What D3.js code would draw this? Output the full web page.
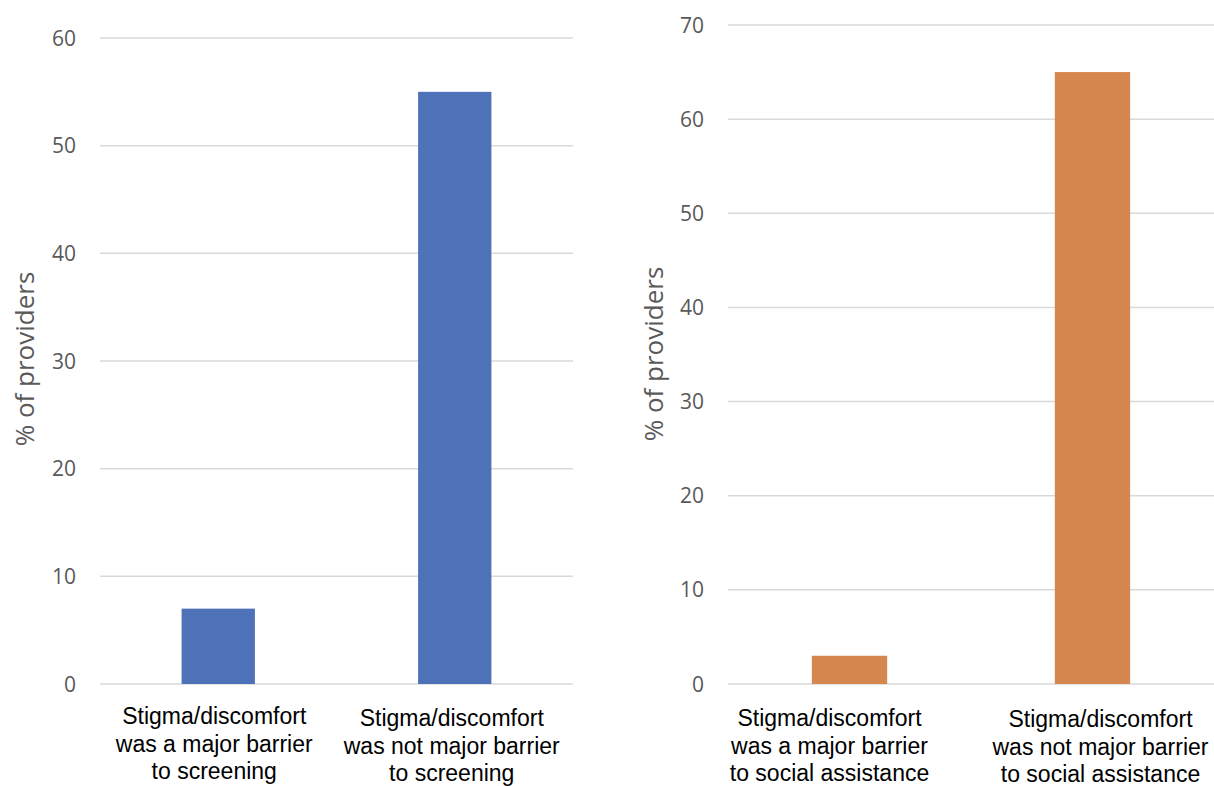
<!DOCTYPE html>
<html>
<head>
<meta charset="utf-8">
<script src="https://cdn.jsdelivr.net/npm/d3@7"></script>
<style>
  html, body { margin: 0; padding: 0; background: #fff; }
  svg { display: block; }
</style>
</head>
<body>
<svg id="chart" width="1214" height="786"></svg>
<script>
// ---- data ----
const leftCategories = [
  ["Stigma/discomfort", "was a major barrier", "to screening"],
  ["Stigma/discomfort", "was not major barrier", "to screening"]
];
const leftValues = [7, 55];
const leftTicks = [0, 10, 20, 30, 40, 50, 60];

const rightCategories = [
  ["Stigma/discomfort", "was a major barrier", "to social assistance"],
  ["Stigma/discomfort", "was not major barrier", "to social assistance"]
];
const rightValues = [3, 65];
const rightTicks = [0, 10, 20, 30, 40, 50, 60, 70];

const yTitle = "% of providers";

// ---- layout ----
const svg = d3.select("#chart");
const panels = [
  { cats: leftCategories, vals: leftValues, ticks: leftTicks, max: 60,
    x0: 100, x1: 573, yTop: 38, yBot: 684, color: "#4e72b8",
    titleX: 25, titleY: 359, labelDx: [-4, -3], labelDy: [0, 2] },
  { cats: rightCategories, vals: rightValues, ticks: rightTicks, max: 70,
    x0: 728, x1: 1214, yTop: 25, yBot: 684, color: "#d6874f",
    titleX: 654, titleY: 354, labelDx: [-20, 8], labelDy: [2, 3] }
];

panels.forEach(p => {
  const g = svg.append("g");
  const y = d3.scaleLinear().domain([0, p.max]).range([p.yBot, p.yTop]);
  const x = d3.scaleBand().domain(d3.range(p.vals.length)).range([p.x0, p.x1]);
  const barW = x.bandwidth() * 0.31;

  // gridlines
  g.selectAll("line.grid").data(p.ticks).join("line")
    .attr("x1", p.x0).attr("x2", p.x1)
    .attr("y1", d => y(d)).attr("y2", d => y(d))
    .attr("stroke", "#d9d9d9").attr("stroke-width", 1.5);

  // tick labels
  g.selectAll("text.tick").data(p.ticks).join("text")
    .attr("x", p.x0 - 24).attr("y", d => y(d))
    .attr("dy", "0.36em")
    .attr("text-anchor", "end")
    .attr("font-family", "'Open Sans', sans-serif")
    .attr("font-size", 21)
    .attr("fill", "#595959")
    .text(d => d);

  // bars
  g.selectAll("rect.bar").data(p.vals).join("rect")
    .attr("x", (d, i) => x(i) + (x.bandwidth() - barW) / 2)
    .attr("width", barW)
    .attr("y", d => y(d))
    .attr("height", d => y(0) - y(d))
    .attr("fill", p.color);

  // y title
  g.append("text")
    .attr("transform", `translate(${p.titleX},${p.titleY}) rotate(-90)`)
    .attr("text-anchor", "middle")
    .attr("dy", "0.35em")
    .attr("font-family", "'Open Sans', sans-serif")
    .attr("font-size", 26)
    .attr("fill", "#595959")
    .text(yTitle);

  // category labels
  p.cats.forEach((lines, i) => {
    const cx = x(i) + x.bandwidth() / 2 + p.labelDx[i];
    const t = g.append("text")
      .attr("text-anchor", "middle")
      .attr("font-family", "'Liberation Sans', Arial, sans-serif")
      .attr("font-size", 23)
      .attr("fill", "#000");
    lines.forEach((ln, k) => {
      t.append("tspan")
        .attr("x", cx)
        .attr("y", 724 + p.labelDy[i] + k * 27.5)
        .text(ln);
    });
  });
});
</script>
</body>
</html>
